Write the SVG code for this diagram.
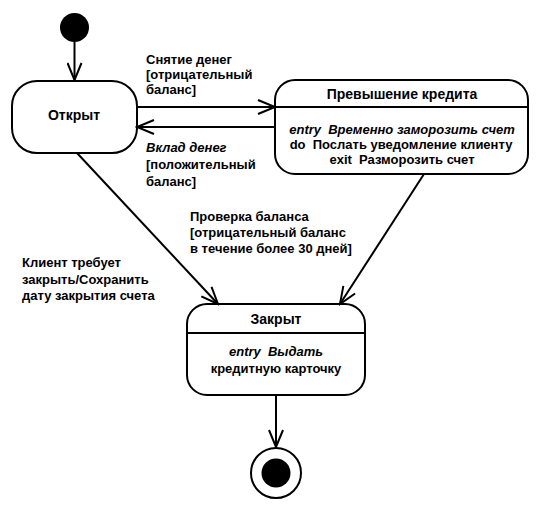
<svg xmlns="http://www.w3.org/2000/svg" width="539" height="515" viewBox="0 0 539 515">
<style>
.st{fill:#fff;stroke:#000;stroke-width:2}
.ln{fill:none;stroke:#000;stroke-width:2}
text{font-family:"Liberation Sans",Arial,sans-serif;font-weight:bold;font-size:13px;fill:#000}
.t{font-size:14px;text-anchor:middle}
.c{text-anchor:middle}
.i{font-style:italic}
</style>
<defs>
<marker id="open" markerUnits="userSpaceOnUse" markerWidth="20" markerHeight="16" refX="18" refY="8" orient="auto">
<path d="M1,1 L18,8 L1,15" fill="none" stroke="#000" stroke-width="2"/>
</marker>
</defs>
<g id="initial"><circle cx="74.5" cy="27.5" r="14.5" fill="#000"/></g>
<g id="open-state">
<rect class="st" x="12" y="81" width="125" height="72" rx="25"/>
<text class="t" x="74" y="120">Открыт</text>
</g>
<g id="overdraft">
<rect class="st" x="275" y="80" width="253" height="94" rx="20"/>
<line class="ln" x1="275" y1="107" x2="528" y2="107"/>
<text class="t" x="402" y="99">Превышение кредита</text>
<text class="c i" x="402" y="134" xml:space="preserve">entry  Временно заморозить счет</text>
<text class="c" x="401" y="149" xml:space="preserve">do  Послать уведомление клиенту</text>
<text class="c" x="402" y="164" xml:space="preserve">exit  Разморозить счет</text>
</g>
<g id="closed">
<rect class="st" x="187" y="304" width="178" height="91" rx="20"/>
<line class="ln" x1="187" y1="333" x2="365" y2="333"/>
<text class="t" x="276" y="324">Закрыт</text>
<text class="c" x="276" y="356" xml:space="preserve"><tspan class="i">entry  Выдать</tspan></text>
<text class="c" x="276" y="373">кредитную карточку</text>
</g>
<g id="final">
<circle cx="276" cy="473" r="25" fill="#fff" stroke="#000" stroke-width="2"/>
<circle cx="276" cy="473" r="14.5" fill="#000"/>
</g>
<g id="connectors">
<line class="ln" x1="74.5" y1="42" x2="74.5" y2="80" marker-end="url(#open)"/>
<line class="ln" x1="137" y1="107" x2="275" y2="107" marker-end="url(#open)"/>
<line class="ln" x1="275" y1="127" x2="137" y2="127" marker-end="url(#open)"/>
<line class="ln" x1="77" y1="153" x2="218" y2="304" marker-end="url(#open)"/>
<line class="ln" x1="424" y1="174" x2="340" y2="304" marker-end="url(#open)"/>
<line class="ln" x1="276" y1="395" x2="276" y2="447" marker-end="url(#open)"/>
</g>
<g id="labels">
<text x="146" y="64">Снятие денег</text>
<text x="146" y="79">[отрицательный</text>
<text x="146" y="94">баланс]</text>
<text class="i" x="146" y="152">Вклад денег</text>
<text x="146" y="169">[положительный</text>
<text x="146" y="186">баланс]</text>
<text x="190" y="221">Проверка баланса</text>
<text x="190" y="237">[отрицательный баланс</text>
<text x="190" y="253">в течение более 30 дней]</text>
<text x="22" y="267">Клиент требует</text>
<text x="22" y="284">закрыть/Сохранить</text>
<text x="22" y="300">дату закрытия счета</text>
</g>
</svg>
